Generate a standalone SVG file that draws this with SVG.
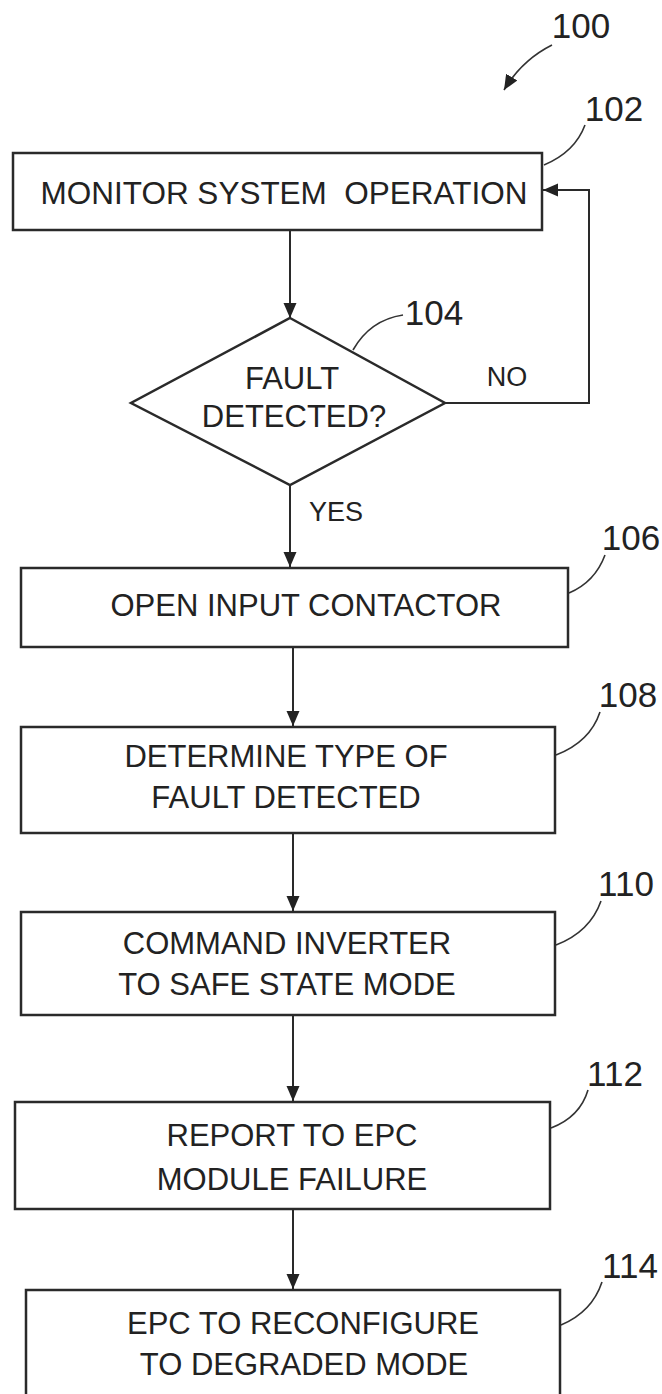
<svg xmlns="http://www.w3.org/2000/svg" width="662" height="1394" viewBox="0 0 662 1394">
  <style>
    .box { fill: #ffffff; stroke: #2a2a2a; stroke-width: 2.5; }
    .txt { font-family: "Liberation Sans", Arial, sans-serif; font-size: 31px; fill: #222222; text-anchor: middle; }
    .lbl { font-family: "Liberation Sans", Arial, sans-serif; font-size: 27px; fill: #222222; text-anchor: middle; }
    .ref { font-family: "Liberation Sans", Arial, sans-serif; font-size: 35px; fill: #222222; text-anchor: middle; }
    .flow { fill: none; stroke: #2a2a2a; stroke-width: 2; }
    .lead { fill: none; stroke: #333333; stroke-width: 1.6; }
  </style>
  <defs>
    <marker id="arrow" markerUnits="userSpaceOnUse" markerWidth="15" markerHeight="14" refX="15" refY="6.5" orient="auto">
      <path d="M0,0 L15,6.5 L0,13 Z" fill="#222222"/>
    </marker>
  </defs>
  <rect x="0" y="0" width="662" height="1394" fill="#ffffff"/>

  <!-- reference numerals and leader lines -->
  <g id="refs">
    <text class="ref" x="581" y="38">100</text>
    <path class="lead" d="M552,45 Q522,60 504,90" marker-end="url(#arrow)"/>
    <text class="ref" x="614" y="121">102</text>
    <path class="lead" d="M585,125 Q575,152 544,165"/>
    <text class="ref" x="434" y="325">104</text>
    <path class="lead" d="M403,315 Q370,320 353,350"/>
    <text class="ref" x="631" y="550">106</text>
    <path class="lead" d="M605,555 Q595,582 569,593"/>
    <text class="ref" x="628" y="707">108</text>
    <path class="lead" d="M600,712 Q590,742 556,755"/>
    <text class="ref" x="626" y="896">110</text>
    <path class="lead" d="M601,901 Q590,932 556,945"/>
    <text class="ref" x="615" y="1086">112</text>
    <path class="lead" d="M588,1090 Q580,1117 551,1128"/>
    <text class="ref" x="630" y="1278">114</text>
    <path class="lead" d="M602,1282 Q592,1312 561,1325"/>
  </g>

  <!-- connectors -->
  <g id="connectors">
    <path class="flow" d="M290,230 L290,318" marker-end="url(#arrow)"/>
    <path class="flow" d="M445,403 L589,403 L589,190 L543,190" marker-end="url(#arrow)"/>
    <path class="flow" d="M290,485 L290,567" marker-end="url(#arrow)"/>
    <path class="flow" d="M293,647 L293,726" marker-end="url(#arrow)"/>
    <path class="flow" d="M293,833 L293,911" marker-end="url(#arrow)"/>
    <path class="flow" d="M293,1015 L293,1101" marker-end="url(#arrow)"/>
    <path class="flow" d="M293,1209 L293,1289" marker-end="url(#arrow)"/>
    <text class="lbl" x="507" y="386">NO</text>
    <text class="lbl" x="336" y="521">YES</text>
  </g>

  <g id="node-102">
    <rect class="box" x="13" y="153" width="529" height="77"/>
    <text class="txt" x="284" y="204" xml:space="preserve" textLength="487" lengthAdjust="spacingAndGlyphs">MONITOR SYSTEM  OPERATION</text>
  </g>

  <g id="node-104">
    <polygon class="box" points="290,318 445,403 290,485 131,403"/>
    <text class="txt" x="292" y="389">FAULT</text>
    <text class="txt" x="294" y="427">DETECTED?</text>
  </g>

  <g id="node-106">
    <rect class="box" x="21" y="568" width="547" height="79"/>
    <text class="txt" x="306" y="616">OPEN INPUT CONTACTOR</text>
  </g>

  <g id="node-108">
    <rect class="box" x="21" y="727" width="534" height="106"/>
    <text class="txt" x="286" y="767">DETERMINE TYPE OF</text>
    <text class="txt" x="286" y="808">FAULT DETECTED</text>
  </g>

  <g id="node-110">
    <rect class="box" x="21" y="912" width="534" height="103"/>
    <text class="txt" x="287" y="954">COMMAND INVERTER</text>
    <text class="txt" x="287" y="995">TO SAFE STATE MODE</text>
  </g>

  <g id="node-112">
    <rect class="box" x="15" y="1102" width="535" height="107"/>
    <text class="txt" x="292" y="1146">REPORT TO EPC</text>
    <text class="txt" x="292" y="1190">MODULE FAILURE</text>
  </g>

  <g id="node-114">
    <rect class="box" x="26" y="1290" width="534" height="120"/>
    <text class="txt" x="303" y="1334">EPC TO RECONFIGURE</text>
    <text class="txt" x="304" y="1375">TO DEGRADED MODE</text>
  </g>
</svg>
